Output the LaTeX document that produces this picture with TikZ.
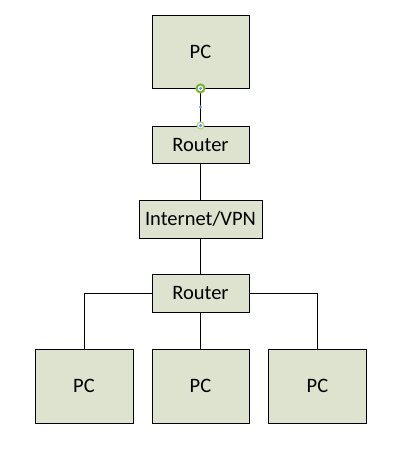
\documentclass[tikz,border=0pt]{standalone}
\usepackage{fontspec}
\setmainfont{Carlito}
\usetikzlibrary{calc}
\begin{document}
\begin{tikzpicture}[x=1pt,y=-1pt,
  box/.style={draw=black,line width=0.9pt,fill=boxfill,inner sep=0pt,font=\fontsize{20.5}{24}\selectfont},
  wire/.style={draw=black,line width=0.9pt}]
\definecolor{boxfill}{RGB}{221,227,206}
\definecolor{hgreen}{RGB}{122,178,46}
\definecolor{hblue}{RGB}{110,150,230}
\useasboundingbox (0,0) rectangle (402,476);
\node[box,minimum width=97pt,minimum height=73pt] (pc0) at (200.5,51.5) {PC};
\node[box,minimum width=97pt,minimum height=37pt] (r1) at (200.5,144.5) {Router};
\node[box,minimum width=123pt,minimum height=38pt] (net) at (200.5,219) {Internet/VPN};
\node[box,minimum width=97pt,minimum height=38pt] (r2) at (200.5,293) {Router};
\node[box,minimum width=98pt,minimum height=74pt] (pc1) at (84,386) {PC};
\node[box,minimum width=97pt,minimum height=74pt] (pc2) at (200.5,386) {PC};
\node[box,minimum width=98pt,minimum height=74pt] (pc3) at (317.5,386) {PC};
\draw[wire] (pc0.south) -- (r1.north);
\draw[wire] (r1.south) -- (net.north);
\draw[wire] (net.south) -- (r2.north);
\draw[wire] (r2.south) -- (pc2.north);
\draw[wire] (r2.west) -| (pc1.north);
\draw[wire] (r2.east) -| (pc3.north);
% selection handles
\coordinate (hmid) at ($(pc0.south)!0.5!(r1.north)$);
\draw[hgreen,line width=2pt,fill=white] (pc0.south) circle (4pt);
\fill[hblue] (pc0.south) circle (1.7pt);
\fill[hblue] (hmid) circle (1.7pt);
\draw[hgreen!60,line width=1.2pt,fill=white] (r1.north) circle (3.5pt);
\fill[hblue] (r1.north) circle (1.8pt);
\end{tikzpicture}
\end{document}
